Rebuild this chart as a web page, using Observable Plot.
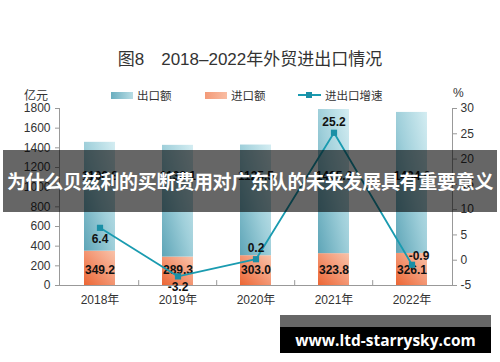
<!DOCTYPE html>
<html><head><meta charset="utf-8">
<script src="https://cdn.jsdelivr.net/npm/d3@7"></script>
<script src="https://cdn.jsdelivr.net/npm/@observablehq/plot@0.6"></script>
<style>
body{margin:0;background:#fff;}
#wrap{position:relative;width:500px;height:362px;overflow:hidden;font-family:"Liberation Sans","Noto Sans CJK SC",sans-serif;color:#333;}
#chart{position:absolute;left:0;top:0;}
.abs{position:absolute;white-space:nowrap;}
.title{left:0;width:500px;top:45px;text-align:center;font-size:17px;color:#333;}
.lg{font-size:11.5px;color:#333;top:87px;}
.sw{top:92px;width:22px;height:7px;}
.overlay{left:3px;top:150px;width:494px;height:62px;background:rgba(0,0,0,0.6);color:#fff;font-family:"Noto Sans CJK SC",sans-serif;font-weight:bold;font-size:19px;line-height:62px;text-align:center;letter-spacing:-0.3px;}
.wm1{left:280px;top:315px;width:211px;height:12px;background:#666;}
.wm2{left:280px;top:327px;width:211px;height:26px;background:#000;color:#fff;font-family:"Open Sans",sans-serif;font-weight:bold;font-size:15.5px;line-height:26px;text-align:center;}
</style></head>
<body>
<div id="wrap">
  <div id="chart"></div>
  <div class="abs title">图8　2018–2022年外贸进出口情况</div>
  <div class="abs lg" style="left:24px;top:86px;font-size:12px;">亿元</div>
  <div class="abs sw" style="left:111px;background:linear-gradient(to right,#6aaebf,#b9dde5);"></div>
  <div class="abs lg" style="left:137px;">出口额</div>
  <div class="abs sw" style="left:205px;background:linear-gradient(to right,#f39a78,#f9bda3);"></div>
  <div class="abs lg" style="left:231px;">进口额</div>
  <div class="abs" style="left:298px;top:94px;width:23px;height:2px;background:#1a9bb0;"></div>
  <div class="abs" style="left:306px;top:92px;width:6px;height:6px;background:#1a8fa6;"></div>
  <div class="abs lg" style="left:325px;">进出口增速</div>
  <div class="abs lg" style="left:453px;top:86px;font-size:12px;">%</div>
  <div class="abs overlay">为什么贝兹利的买断费用对广东队的未来发展具有重要意义</div>
  <div class="abs wm1"></div>
  <div class="abs wm2">www.ltd-starrysky.com</div>
</div>
<script>
const years = ["2018年", "2019年", "2020年", "2021年", "2022年"];
const exportValues = [1106.8, 1136.1, 1125.5, 1465.6, 1434.0];
const importValues = [349.2, 289.3, 303.0, 323.8, 326.1];
const growthValues = [6.4, -3.2, 0.2, 25.2, -0.9];
const leftTicks = [0, 200, 400, 600, 800, 1000, 1200, 1400, 1600, 1800];
const rightTicks = [-5, 0, 5, 10, 15, 20, 25, 30];

const rows = years.map((y, i) => ({year: y, exp: exportValues[i], imp: importValues[i], g: growthValues[i], i}));
// map right-axis percent onto left-axis units
const conv = v => (v + 5) * 1800 / 35;
const teal = "#1a9bb0";

const chart = Plot.plot({
  width: 500, height: 362,
  marginLeft: 59, marginRight: 48, marginTop: 108, marginBottom: 77,
  style: {fontFamily: '"Liberation Sans","Noto Sans CJK SC",sans-serif', fontSize: "12px", color: "#333", background: "transparent"},
  x: {domain: years, paddingInner: 0.6, paddingOuter: 0.3, label: null},
  y: {domain: [0, 1800], label: null},
  marks: [
    Plot.barY(rows, {x: "year", y1: 0, y2: "imp", fill: "url(#gImp)"}),
    Plot.barY(rows, {x: "year", y1: "imp", y2: d => d.imp + d.exp, fill: "url(#gExp)"}),
    Plot.frame({anchor: "left", stroke: "#999"}),
    Plot.frame({anchor: "right", stroke: "#999"}),
    Plot.frame({anchor: "bottom", stroke: "#999"}),
    Plot.ruleX(years.slice(1), {x: d => d, y1: 0, y2: 50, dx: -39.3, stroke: "#999"}),
    Plot.axisY({anchor: "left", ticks: leftTicks, tickFormat: d => String(d), tickSize: 4, tickPadding: 5, stroke: "#999", fontSize: 12, label: null}),
    Plot.axisY({anchor: "right", ticks: rightTicks.map(conv), tickFormat: d => String(Math.round(d * 35 / 1800 - 5)), tickSize: 4, tickPadding: 4, stroke: "#999", fontSize: 12, label: null}),
    Plot.axisX({tickSize: 0, tickPadding: 10, fontSize: 12, label: null}),
    Plot.text(rows, {x: "year", y: 0, dy: -15, text: d => d.imp.toFixed(1), fontWeight: "bold", fontSize: 12, fill: "#111"}),
    Plot.text(rows, {x: "year", y: () => 1110, text: d => d.exp.toFixed(1), fontWeight: "bold", fontSize: 12, fill: "#111"}),
    Plot.line(rows, {x: "year", y: d => conv(d.g), stroke: teal, strokeWidth: 1.8}),
    Plot.dot(rows, {x: "year", y: d => conv(d.g), symbol: "square", r: 3.5, fill: "#1a8fa6", stroke: "none"}),
    Plot.text(rows.filter(d => d.i < 2), {x: "year", y: d => conv(d.g), dy: 11, text: d => d.g.toFixed(1), fontWeight: "bold", fontSize: 12, fill: "#111"}),
    Plot.text(rows.filter(d => d.i >= 2 && d.i < 4), {x: "year", y: d => conv(d.g), dy: -11, text: d => d.g.toFixed(1), fontWeight: "bold", fontSize: 12, fill: "#111"}),
    Plot.text(rows.filter(d => d.i === 4), {x: "year", y: d => conv(d.g), dy: -9, dx: 7, text: d => d.g.toFixed(1), fontWeight: "bold", fontSize: 12, fill: "#111"})
  ]
});

const svg = d3.select(chart);
const defs = svg.insert("defs", ":first-child");
const gE = defs.append("linearGradient").attr("id", "gExp").attr("x1", 0).attr("y1", 1).attr("x2", 1).attr("y2", 0);
gE.append("stop").attr("offset", 0).attr("stop-color", "#5ea5b7");
gE.append("stop").attr("offset", 0.5).attr("stop-color", "#9fcfda");
gE.append("stop").attr("offset", 1).attr("stop-color", "#d4edf2");
const gI = defs.append("linearGradient").attr("id", "gImp").attr("x1", 0).attr("y1", 1).attr("x2", 1).attr("y2", 0);
gI.append("stop").attr("offset", 0).attr("stop-color", "#ec6634");
gI.append("stop").attr("offset", 0.55).attr("stop-color", "#f49a78");
gI.append("stop").attr("offset", 1).attr("stop-color", "#f9c3aa");
document.getElementById("chart").appendChild(chart);
</script>
</body></html>
